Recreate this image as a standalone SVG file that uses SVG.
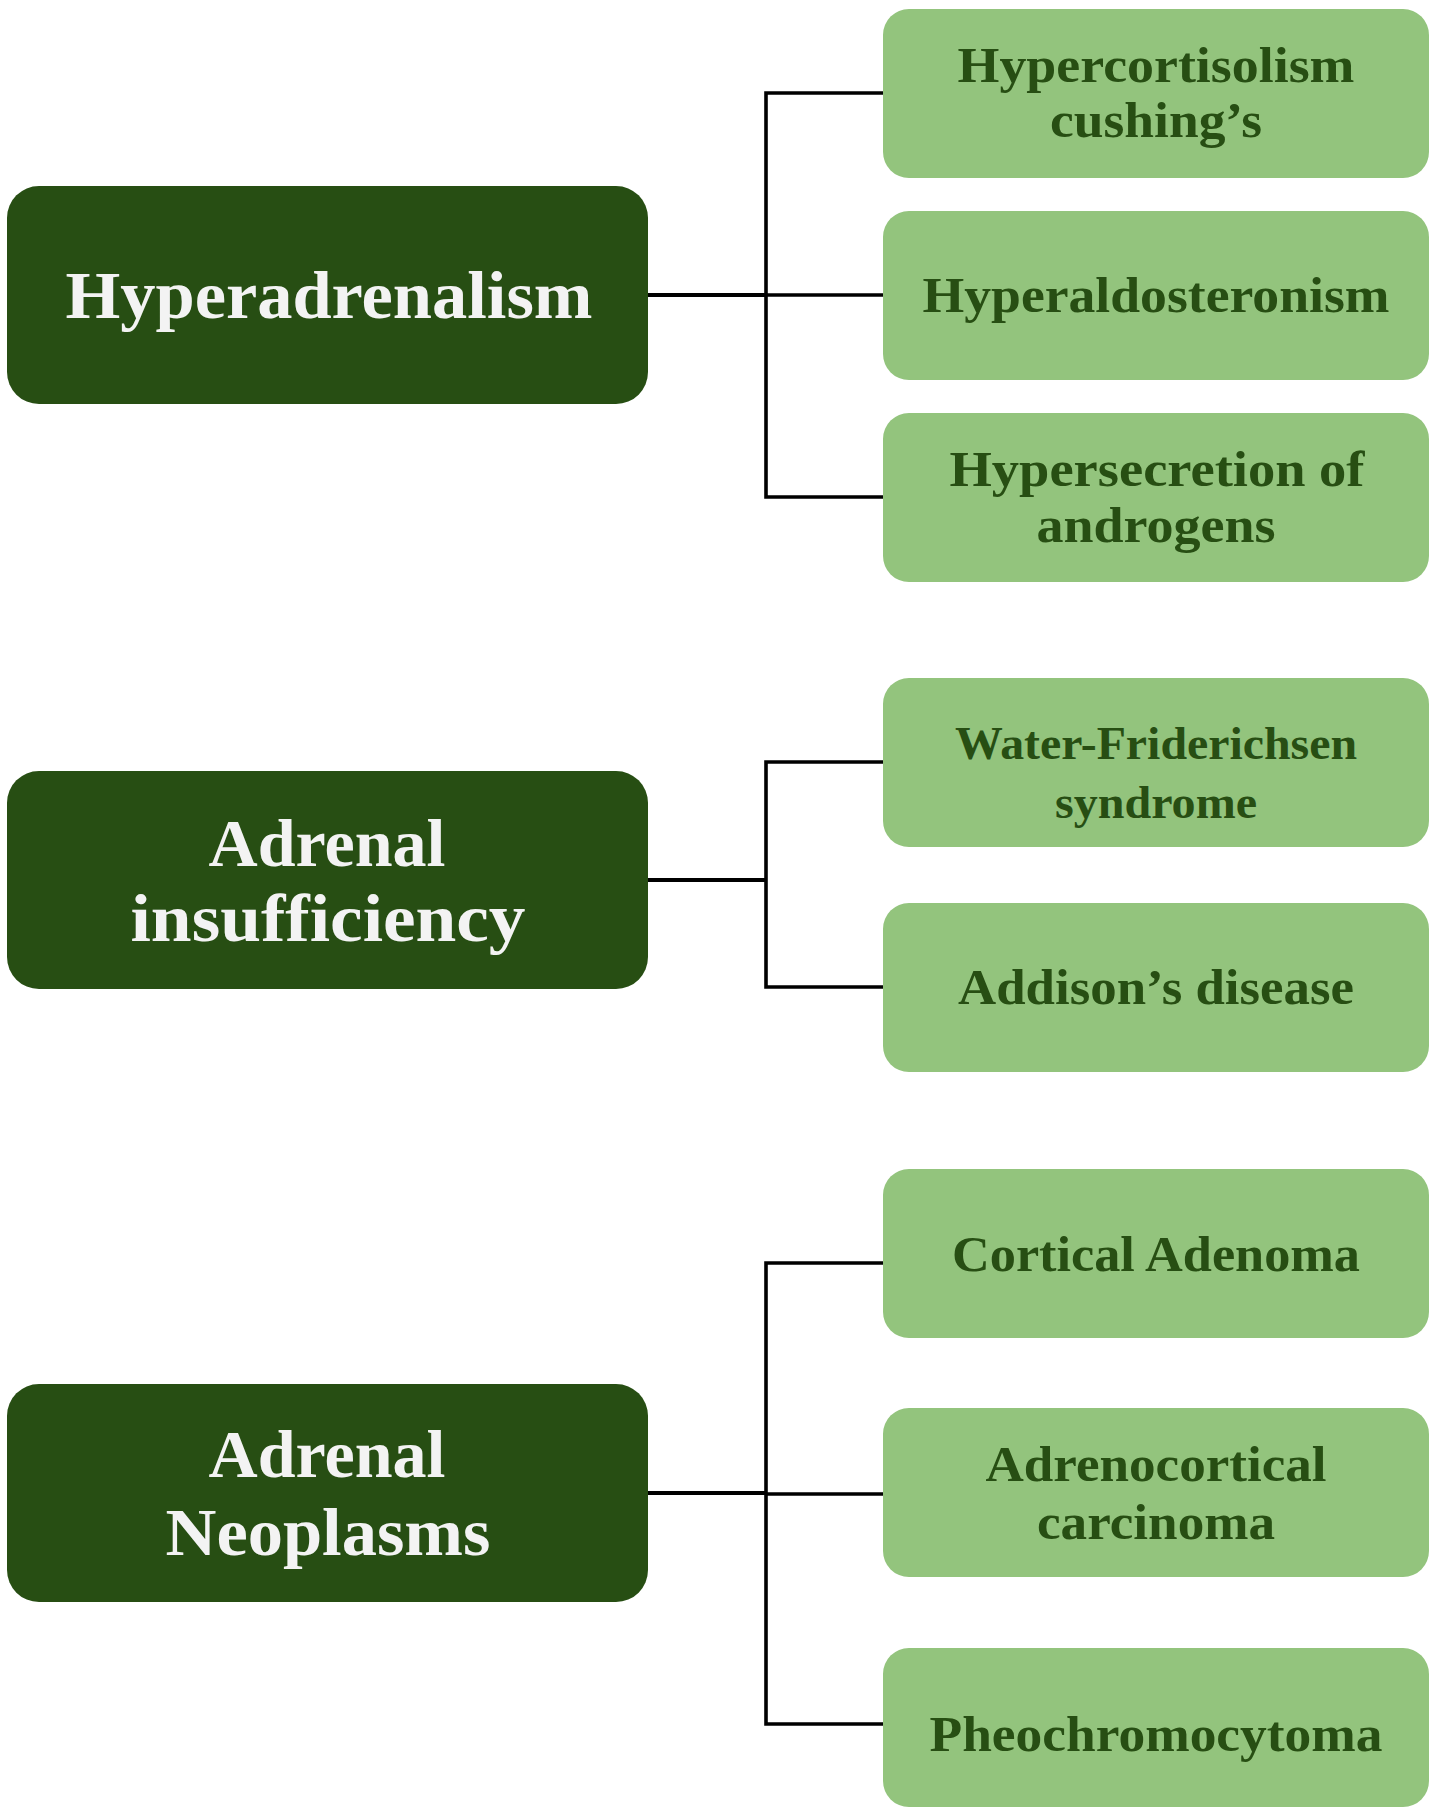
<svg xmlns="http://www.w3.org/2000/svg" width="1430" height="1808" viewBox="0 0 1430 1808">
<style>
.main rect{fill:#274e13}
.child rect{fill:#93c47d}
.main text{fill:#f3f3f3;font-family:"Liberation Serif",serif;font-weight:bold;font-size:68px;text-anchor:middle}
.child text{fill:#274e13;font-family:"Liberation Serif",serif;font-weight:bold;font-size:50px;text-anchor:middle}
.child text.sm{font-size:46px}
.conn path{fill:none;stroke:#000;stroke-width:3.6;stroke-linejoin:miter}
.conn path.trunk{stroke-width:4}
</style>
<rect width="1430" height="1808" fill="#ffffff"/>
<g class="conn" id="connectors">
<path class="trunk" d="M648,295 H766"/>
<path d="M883,93 H766 V497 H883"/>
<path d="M766,295 H883"/>
<path class="trunk" d="M648,880 H766"/>
<path d="M883,762 H766 V987 H883"/>
<path class="trunk" d="M648,1493 H766"/>
<path d="M883,1263 H766 V1724 H883"/>
<path d="M766,1494 H883"/>
</g>
<g class="main" id="node-hyperadrenalism">
<rect x="7" y="186" width="641" height="218" rx="32"/>
<text x="329" y="318" textLength="527" lengthAdjust="spacingAndGlyphs">Hyperadrenalism</text>
</g>
<g class="main" id="node-adrenal-insufficiency">
<rect x="7" y="771" width="641" height="218" rx="32"/>
<text x="327" y="866" textLength="237" lengthAdjust="spacingAndGlyphs">Adrenal</text>
<text x="328" y="941" textLength="395" lengthAdjust="spacingAndGlyphs">insufficiency</text>
</g>
<g class="main" id="node-adrenal-neoplasms">
<rect x="7" y="1384" width="641" height="218" rx="32"/>
<text x="327" y="1477" textLength="237" lengthAdjust="spacingAndGlyphs">Adrenal</text>
<text x="328" y="1555" textLength="325" lengthAdjust="spacingAndGlyphs">Neoplasms</text>
</g>
<g class="child" id="node-hypercortisolism">
<rect x="883" y="9" width="546" height="169" rx="26"/>
<text x="1156" y="82" textLength="397" lengthAdjust="spacingAndGlyphs">Hypercortisolism</text>
<text x="1156" y="137" textLength="212" lengthAdjust="spacingAndGlyphs">cushing’s</text>
</g>
<g class="child" id="node-hyperaldosteronism">
<rect x="883" y="211" width="546" height="169" rx="26"/>
<text x="1156" y="312" textLength="467" lengthAdjust="spacingAndGlyphs">Hyperaldosteronism</text>
</g>
<g class="child" id="node-hypersecretion">
<rect x="883" y="413" width="546" height="169" rx="26"/>
<text x="1157" y="486" textLength="415" lengthAdjust="spacingAndGlyphs">Hypersecretion of</text>
<text x="1156" y="542" textLength="239" lengthAdjust="spacingAndGlyphs">androgens</text>
</g>
<g class="child" id="node-water-friderichsen">
<rect x="883" y="678" width="546" height="169" rx="26"/>
<text class="sm" x="1156" y="759" textLength="402" lengthAdjust="spacingAndGlyphs">Water-Friderichsen</text>
<text class="sm" x="1156" y="818" textLength="202" lengthAdjust="spacingAndGlyphs">syndrome</text>
</g>
<g class="child" id="node-addison">
<rect x="883" y="903" width="546" height="169" rx="26"/>
<text x="1156" y="1004" textLength="396" lengthAdjust="spacingAndGlyphs">Addison’s disease</text>
</g>
<g class="child" id="node-cortical-adenoma">
<rect x="883" y="1169" width="546" height="169" rx="26"/>
<text x="1156" y="1271" textLength="408" lengthAdjust="spacingAndGlyphs">Cortical Adenoma</text>
</g>
<g class="child" id="node-adrenocortical-carcinoma">
<rect x="883" y="1408" width="546" height="169" rx="26"/>
<text x="1156" y="1481" textLength="341" lengthAdjust="spacingAndGlyphs">Adrenocortical</text>
<text x="1156" y="1539" textLength="238" lengthAdjust="spacingAndGlyphs">carcinoma</text>
</g>
<g class="child" id="node-pheochromocytoma">
<rect x="883" y="1648" width="546" height="159" rx="26"/>
<text x="1156" y="1751" textLength="453" lengthAdjust="spacingAndGlyphs">Pheochromocytoma</text>
</g>
</svg>
